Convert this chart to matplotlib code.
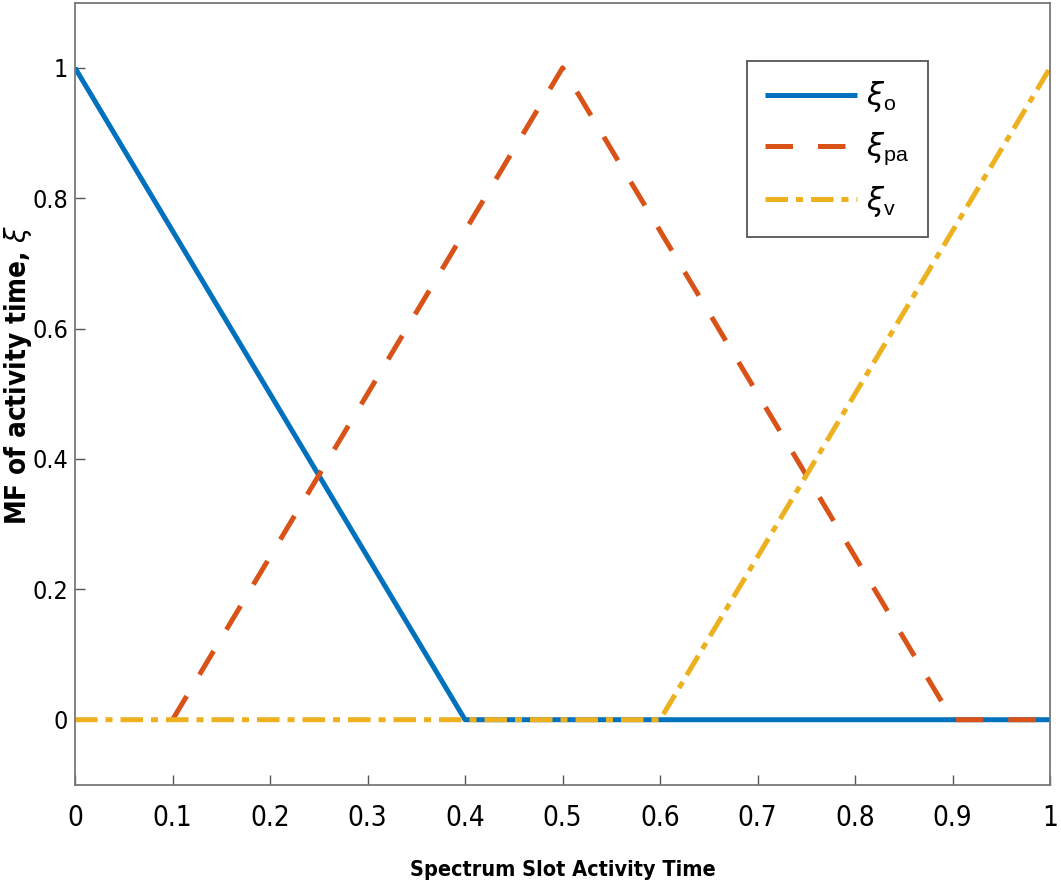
import matplotlib
matplotlib.use("Agg")
import matplotlib.pyplot as plt
from matplotlib import font_manager

plt.rcParams['font.family'] = ['Liberation Sans', 'DejaVu Sans']
plt.rcParams['mathtext.fontset'] = 'dejavusans'

# membership functions
x_o = [0, 0.4, 1]
y_o = [1, 0, 0]
x_pa = [0.1, 0.5, 0.9, 1]
y_pa = [0, 1, 0, 0]
x_v = [0, 0.6, 1]
y_v = [0, 0, 1]

xticks = [0, 0.1, 0.2, 0.3, 0.4, 0.5, 0.6, 0.7, 0.8, 0.9, 1]
xticklabels = ['0', '0.1', '0.2', '0.3', '0.4', '0.5', '0.6', '0.7', '0.8', '0.9', '1']
yticks = [0, 0.2, 0.4, 0.6, 0.8, 1]
yticklabels = ['0', '0.2', '0.4', '0.6', '0.8', '1']

# a condensed face if one is installed
cond = [f for f in font_manager.fontManager.ttflist if 'condensed' in str(f.stretch).lower()
        or 'Condensed' in f.fname or 'Narrow' in f.name]
if cond:
    cfont = {'family': cond[0].name, 'stretch': cond[0].stretch}
else:
    cfont = {'family': 'Liberation Sans'}

fig = plt.figure(figsize=(10.61, 8.96), dpi=100)
ax = fig.add_axes([0.0707, 0.124, 0.919, 0.873])

ax.plot(x_o, y_o, color='#0072BD', lw=3.6, solid_capstyle='butt', label=r'$\xi_{\mathregular{o}}$')
ax.plot(x_pa, y_pa, color='#D95319', lw=3.6, dashes=(5.5, 5), label=r'$\xi_{\mathregular{pa}}$')
ax.plot(x_v, y_v, color='#EDB120', lw=3.6, dashes=(4.5, 1.6, 1.4, 1.6), label=r'$\xi_{\mathregular{v}}$')

ax.set_xlim(0, 1)
ax.set_ylim(-0.1, 1.1)
ax.set_xticks(xticks)
ax.set_xticklabels(xticklabels, fontsize=20, **cfont)
ax.set_yticks(yticks)
ax.set_yticklabels(yticklabels, fontsize=18, **cfont)
ax.tick_params(direction='in', length=7, width=1, color='#555555', pad=5,
               top=False, right=False)
ax.tick_params(axis='x', pad=14)
for s in ax.spines.values():
    s.set_color('#777777')
    s.set_linewidth(1.3)

ax.set_xlabel('Spectrum Slot Activity Time', fontsize=15.5, fontweight='bold', labelpad=20, **cfont)
ax.set_ylabel(r'MF of activity time, $\xi$', fontsize=20, fontweight='bold', **cfont)
ax.yaxis.set_label_coords(-0.042, 0.524)

leg = ax.legend(loc='upper right', bbox_to_anchor=(0.89, 0.945), fontsize=22,
                handlelength=3.0, handletextpad=0.3, labelspacing=0.55,
                borderpad=0.6, fancybox=False, framealpha=1)
leg.get_frame().set_edgecolor('#555555')
leg.get_frame().set_linewidth(1.3)

fig.savefig('out.png', dpi=100)
